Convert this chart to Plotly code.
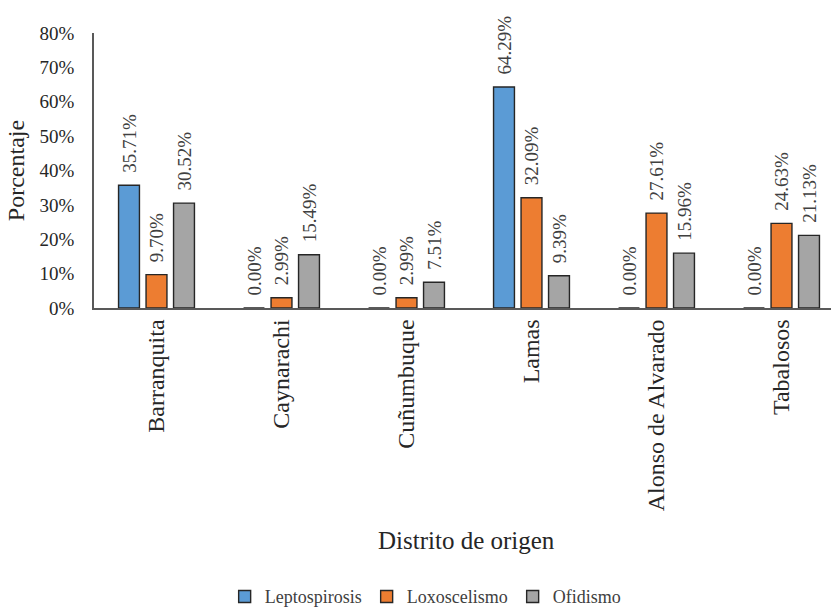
import plotly.graph_objects as go

distritos = ["Barranquita", "Caynarachi", "Cuñumbuque", "Lamas", "Alonso de Alvarado", "Tabalosos"]
leptospirosis = [35.71, 0.00, 0.00, 64.29, 0.00, 0.00]
loxoscelismo = [9.70, 2.99, 2.99, 32.09, 27.61, 24.63]
ofidismo = [30.52, 15.49, 7.51, 9.39, 15.96, 21.13]
y_ticks = [0, 10, 20, 30, 40, 50, 60, 70, 80]

series = [
    ("Leptospirosis", leptospirosis, "#5B9BD5"),
    ("Loxoscelismo", loxoscelismo, "#ED7D31"),
    ("Ofidismo", ofidismo, "#A5A5A5"),
]

FONT = "Liberation Serif, Times New Roman, serif"
DARK = "#262626"
PAD = "\u00a0\u00a0"  # lifts the rotated value labels off the bar tops

fig = go.Figure()
for name, vals, color in series:
    fig.add_trace(go.Bar(
        name=name,
        x=distritos,
        y=[v / 100 for v in vals],
        marker=dict(color=color, line=dict(color=DARK, width=1.4)),
        text=[f"{PAD}{v:.2f}%" for v in vals],
        textposition="outside",
        textangle=-90,
        constraintext="none",
        textfont=dict(family=FONT, size=19, color="#404040"),
        cliponaxis=False,
    ))

fig.update_layout(
    width=831, height=608,
    margin=dict(l=94, r=0, t=33, b=300, autoexpand=False),
    paper_bgcolor="white", plot_bgcolor="white",
    barmode="group", bargap=0.34, bargroupgap=0.24,
    font=dict(family=FONT, color=DARK),
    showlegend=True,
    legend=dict(orientation="h", x=0.45, xanchor="center", y=-1.05, yanchor="middle",
                font=dict(family=FONT, size=18, color="#404040"),
                itemwidth=30, tracegroupgap=0),
    xaxis=dict(
        range=[-0.5, 5.396],
        showline=True, linecolor="#595959", linewidth=1.6,
        ticks="", tickangle=-90,
        tickfont=dict(family=FONT, size=24, color=DARK),
        showgrid=False,
    ),
    yaxis=dict(
        range=[0, 0.8],
        tickvals=[t / 100 for t in y_ticks],
        ticktext=[f"{t}%" for t in y_ticks],
        showline=True, linecolor="#595959", linewidth=1.6,
        ticks="", showgrid=False, zeroline=False,
        ticklabelstandoff=14,
        tickfont=dict(family=FONT, size=19, color=DARK),
        title=dict(text="Porcentaje", font=dict(family=FONT, size=24, color=DARK), standoff=8),
    ),
    annotations=[dict(
        text="Distrito de origen", x=0.505, xref="paper", y=(308 - 540) / 275, yref="paper",
        yanchor="middle", showarrow=False, font=dict(family=FONT, size=25, color=DARK),
    )],
)

fig.write_html("out.html")
